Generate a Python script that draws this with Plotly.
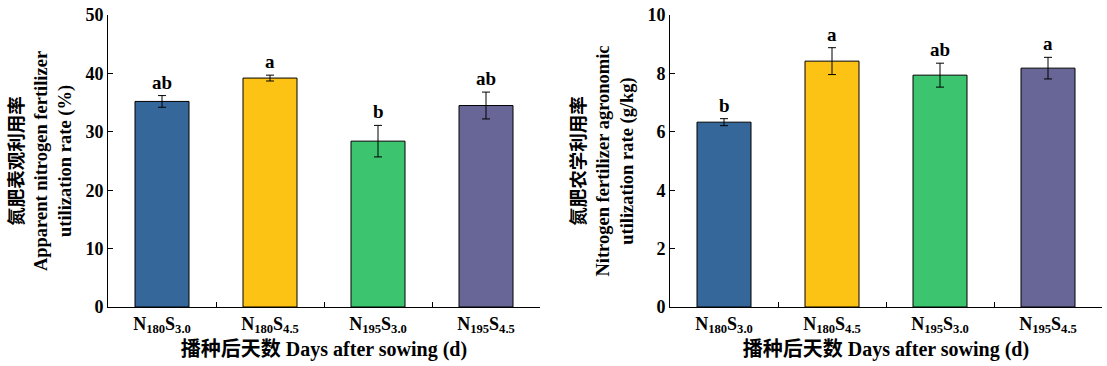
import plotly.graph_objects as go

categories = ["N<sub>180</sub>S<sub>3.0</sub>", "N<sub>180</sub>S<sub>4.5</sub>",
              "N<sub>195</sub>S<sub>3.0</sub>", "N<sub>195</sub>S<sub>4.5</sub>"]
colors = ["#35679A", "#FDC314", "#3CC46E", "#676697"]

anue_values = [35.2, 39.2, 28.4, 34.5]
anue_errors = [1.0, 0.5, 2.7, 2.3]
anue_letters = ["ab", "a", "b", "ab"]

nae_values = [6.33, 8.42, 7.94, 8.18]
nae_errors = [0.12, 0.46, 0.41, 0.37]
nae_letters = ["b", "a", "ab", "a"]

FONT = "Liberation Serif, Times New Roman, Noto Sans CJK SC, serif"

fig = go.Figure()

def add_panel(values, errors, letters, xa, ya):
    fig.add_trace(go.Bar(
        x=categories, y=values, xaxis=xa, yaxis=ya,
        marker=dict(color=colors, line=dict(color="black", width=1)),
        error_y=dict(type="data", array=errors, color="black", thickness=1, width=4),
        width=0.5, showlegend=False,
    ))
    for c, v, e, l in zip(categories, values, errors, letters):
        fig.add_annotation(x=c, y=v + e, xref=xa, yref=ya, text="<b>%s</b>" % l,
                           showarrow=False, yanchor="bottom", yshift=1,
                           font=dict(family=FONT, size=19, color="black"))

add_panel(anue_values, anue_errors, anue_letters, "x", "y")
add_panel(nae_values, nae_errors, nae_letters, "x2", "y2")

W, H = 1107, 366
ydom = [(H - 307) / H, (H - 15) / H]

xcommon = dict(type="category", range=[-0.5, 3.5], showline=True, linecolor="black",
               linewidth=1, ticks="inside", ticklen=5, tickcolor="black",
               tickson="boundaries", showgrid=False, zeroline=False, automargin=False,
               ticklabeloverflow="allow",
               tickfont=dict(family=FONT, size=18, color="black"),
               title=dict(text="<b>播种后天数 Days after sowing (d)</b>",
                          font=dict(family=FONT, size=20, color="black"), standoff=6))
ycommon = dict(showline=True, linecolor="black", linewidth=1, ticks="inside",
               ticklen=5, tickcolor="black", showgrid=False, zeroline=False,
               automargin=False, ticklabeloverflow="allow",
               tickfont=dict(family=FONT, size=18, color="black"))

fig.update_layout(
    width=W, height=H, margin=dict(l=0, r=0, t=0, b=0),
    plot_bgcolor="white", paper_bgcolor="white",
    font=dict(family=FONT, color="black"),
    xaxis=dict(domain=[108 / W, 540 / W], anchor="y", **xcommon),
    yaxis=dict(domain=ydom, anchor="x", range=[0, 50], dtick=10,
               tickprefix="<b>", ticksuffix="</b>",
               title=dict(text="<b>氮肥表观利用率<br>Apparent nitrogen fertilizer<br>utilization rate (%)</b>",
                          font=dict(family=FONT, size=18.5, color="black"), standoff=8),
               **ycommon),
    xaxis2=dict(domain=[670 / W, 1102 / W], anchor="y2", **xcommon),
    yaxis2=dict(domain=ydom, anchor="x2", range=[0, 10], dtick=2,
                tickprefix="<b>", ticksuffix="</b>",
                title=dict(text="<b>氮肥农学利用率<br>Nitrogen fertilizer agronomic<br>utilization rate (g/kg)</b>",
                           font=dict(family=FONT, size=18.5, color="black"), standoff=8),
                **ycommon),
)

# bold category tick labels
fig.update_xaxes(tickvals=categories, ticktext=["<b>%s</b>" % c for c in categories])

fig.write_html("out.html", config={"displayModeBar": False},
               post_script="document.body.style.margin='0';document.body.style.overflow='hidden';")
